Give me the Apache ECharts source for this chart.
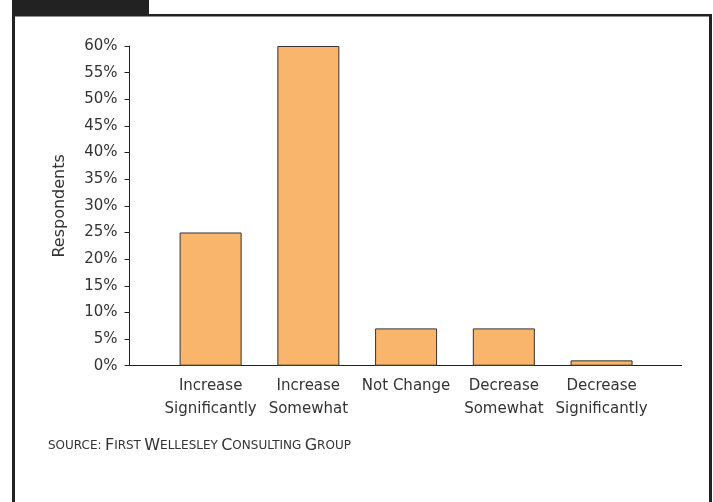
<!DOCTYPE html>
<html>
<head>
<meta charset="utf-8">
<script src="https://cdn.jsdelivr.net/npm/echarts@6/dist/echarts.min.js"></script>
<style>
  html, body { margin: 0; padding: 0; background: #fff; }
  #chart { width: 713px; height: 502px; }
</style>
</head>
<body>
<div id="chart"></div>
<script>
// categories and values
var categories = ['Increase\nSignificantly', 'Increase\nSomewhat', 'Not Change', 'Decrease\nSomewhat', 'Decrease\nSignificantly'];
var respondents = [25, 60, 7, 7, 1];
var yTicks = [0, 5, 10, 15, 20, 25, 30, 35, 40, 45, 50, 55, 60];

var FONT = 'DejaVu Sans';
var myChart = echarts.init(document.getElementById('chart'));

var option = {
    animation: false,
    textStyle: { fontFamily: FONT },
    grid: {
        left: 129.5,
        right: 31.3,
        top: 46,
        bottom: 136.3
    },
    xAxis: {
        type: 'value',
        min: -0.83,
        max: 4.82,
        splitLine: { show: false },
        axisTick: { show: false },
        axisLine: { show: true, onZero: false, lineStyle: { color: '#222', width: 1 } },
        axisLabel: {
            customValues: [0, 1, 2, 3, 4],
            formatter: function (v) { return categories[Math.round(v)]; },
            fontFamily: FONT,
            fontSize: 15,
            color: '#333',
            lineHeight: 23,
            margin: 9
        }
    },
    yAxis: {
        type: 'value',
        min: yTicks[0],
        max: yTicks[yTicks.length - 1],
        interval: 5,
        name: 'Respondents',
        nameLocation: 'middle',
        nameGap: 62,
        nameTextStyle: { fontFamily: FONT, fontSize: 16, color: '#333' },
        splitLine: { show: false },
        axisLine: { show: true, onZero: false, lineStyle: { color: '#222', width: 1 } },
        axisTick: { show: true, length: 5, lineStyle: { color: '#222' } },
        axisLabel: {
            formatter: '{value}%',
            fontFamily: FONT,
            fontSize: 15,
            color: '#333',
            margin: 12
        }
    },
    series: [
        {
            type: 'bar',
            barWidth: 62,
            data: respondents.map(function (v, i) { return [i, v]; }),
            itemStyle: {
                color: '#F9B56B',
                borderColor: '#333',
                borderWidth: 1
            }
        }
    ],
    graphic: [
        // frame
        { type: 'rect', shape: { x: 12, y: 0, width: 137, height: 16 }, style: { fill: '#222' } },
        { type: 'rect', shape: { x: 12, y: 14, width: 700, height: 2.5 }, style: { fill: '#222' } },
        { type: 'rect', shape: { x: 12, y: 14, width: 3, height: 488 }, style: { fill: '#222' } },
        { type: 'rect', shape: { x: 709, y: 14, width: 3, height: 488 }, style: { fill: '#222' } },
        // source line
        {
            type: 'text',
            left: 48,
            top: 438,
            style: {
                text: '{s|SOURCE:} {c|F}{s|IRST} {c|W}{s|ELLESLEY} {c|C}{s|ONSULTING} {c|G}{s|ROUP}',
                rich: {
                    s: { fontFamily: FONT, fontSize: 12, fill: '#333' },
                    c: { fontFamily: FONT, fontSize: 16, fill: '#333' }
                }
            }
        }
    ]
};

myChart.setOption(option);
window.addEventListener('resize', function () {
    myChart.resize();
});
</script>
</body>
</html>
